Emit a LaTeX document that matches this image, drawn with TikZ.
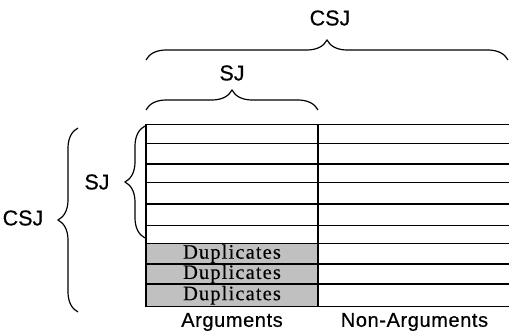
\documentclass[tikz,border=0pt]{standalone}
\usepackage{fontspec}
\setmainfont[FakeBold=0.5]{Liberation Sans}
\newfontfamily\dupfont[LetterSpace=5.5,FakeBold=0.3]{Liberation Serif}
\newfontfamily\axisfont[LetterSpace=3,FakeBold=0.5]{Liberation Sans}
\usetikzlibrary{decorations.pathreplacing}
\definecolor{dupgray}{RGB}{192,192,192}
\begin{document}
\begin{tikzpicture}[x=1pt,y=-1pt,
  gridline/.style={line width=1.7pt},
  bracepath/.style={decorate, decoration={brace, amplitude=20pt}, line width=1.2pt},
  lbl/.style={font=\fontsize{21.5}{24}\selectfont, inner sep=0pt},
  axislbl/.style={font=\axisfont\fontsize{20}{22}\selectfont, inner sep=0pt},
  dupcell/.style={fill=dupgray, draw, line width=1.7pt, minimum width=172pt,
    inner sep=0pt, font=\dupfont\fontsize{20.5}{20}\selectfont}]
\useasboundingbox (0,0) rectangle (509,334);

% table corners and column split
\coordinate (tl) at (146,124.5);
\coordinate (mt) at (318,124.5);
\coordinate (bl) at (146,306.5);
\coordinate (mb) at (318,306.5);

% duplicate rows in the argument column
\node[dupcell, minimum height=20.5pt] (dup1) at (232,253.75) {Duplicates};
\node[dupcell, minimum height=20pt] (dup2) at (232,274) {Duplicates};
\node[dupcell, minimum height=22.5pt] (dup3) at (232,295.25) {Duplicates};

% rows
\foreach \y in {143.5,164,182.5,204,225.5,243.5,264,284}
  \draw[gridline] (146,\y) -- (511,\y);
\draw[gridline] (tl) rectangle (511,306.5);
\draw[gridline] (mt) -- (mb);

% column labels
\node[axislbl] (args) at (232,322) {Arguments};
\node[axislbl] (nonargs) at (414.5,322) {Non-Arguments};

% braces above the table
\coordinate (tcl) at (146,60);
\coordinate (tcr) at (508,60);
\coordinate (tsl) at (146,110);
\coordinate (tsr) at (318,110);
\draw[bracepath] (tcl) -- (tcr);
\draw[bracepath] (tsl) -- (tsr);
\node[lbl] (csjtop) at (330,18) {CSJ};
\node[lbl] (sjtop) at (232,73) {SJ};

% braces left of the table
\coordinate (lcb) at (78,312);
\coordinate (lct) at (78,128);
\coordinate (lsb) at (145,238);
\coordinate (lst) at (145,126);
\draw[bracepath] (lcb) -- (lct);
\draw[bracepath] (lsb) -- (lst);
\node[lbl] (csjleft) at (23,218) {CSJ};
\node[lbl] (sjleft) at (97,182) {SJ};
\end{tikzpicture}
\end{document}
